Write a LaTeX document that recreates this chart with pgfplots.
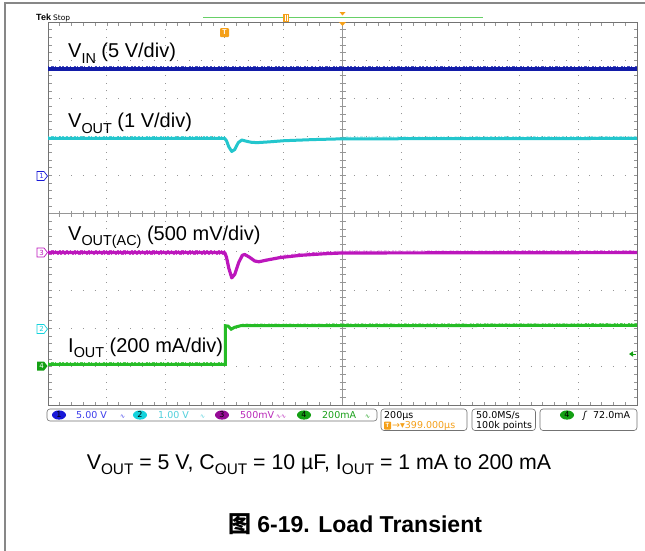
\documentclass[border=0pt]{standalone}
\usepackage{pgfplots}
\pgfplotsset{compat=1.18}
\usepackage{fontspec}
\setmainfont{Liberation Sans}
\newfontfamily\dejavu{DejaVu Sans}
\newfontfamily\cjk{Noto Sans CJK SC}
\definecolor{gridc}{RGB}{150,150,150}
\definecolor{bordc}{RGB}{115,115,115}
\definecolor{chA}{RGB}{18,28,168}
\definecolor{chB}{RGB}{35,198,205}
\definecolor{chC}{RGB}{188,22,188}
\definecolor{chD}{RGB}{38,188,38}
\definecolor{txA}{RGB}{60,60,235}
\definecolor{txB}{RGB}{80,208,220}
\definecolor{txC}{RGB}{185,40,185}
\definecolor{txD}{RGB}{25,160,25}
\definecolor{elA}{RGB}{25,25,215}
\definecolor{elB}{RGB}{20,210,220}
\definecolor{elC}{RGB}{150,10,150}
\definecolor{elD}{RGB}{20,160,20}
\definecolor{tekor}{RGB}{245,160,25}
\definecolor{framec}{RGB}{135,135,135}
\newcommand\sub[1]{\raisebox{-0.28em}{\scalebox{0.72}{#1}}}
\pgfplotsset{fuzz/.style={line width=0.7pt, opacity=0.75,
  dash pattern=on 1.2pt off 2.1pt on 2.6pt off 1.4pt on 0.8pt off 3.3pt on 1.9pt off 1.1pt}}
\begin{document}
\begin{tikzpicture}
\useasboundingbox (0,0) rectangle (645pt,-550pt);
\fill[white] (0,0) rectangle (645pt,-550pt);
\begin{scope}[x=1pt,y=-1pt]
% outer frame
\draw[framec, line width=1.3pt] (5,560) -- (5,3) -- (650,3);
% dotted grid
\foreach \i in {1,2,3,4,6,7,8,9} {
  \draw[gridc, line width=0.9pt, dash pattern=on 0.9pt off 6.76pt] (48+58.9*\i,405.45) -- (48+58.9*\i,22);
  \draw[gridc, line width=0.9pt, dash pattern=on 0.9pt off 10.88pt] (47.55,405-38.3*\i) -- (637,405-38.3*\i);
}
% centre crosshair
\draw[gridc, line width=0.6pt] (342.5,22) -- (342.5,405);
\draw[gridc, line width=0.6pt] (48,213.5) -- (637,213.5);
\foreach \k in {1,...,49} {
  \draw[gridc, line width=0.6pt] (48+11.78*\k,210.5) -- ++(0,6);
  \draw[gridc, line width=0.6pt] (48+11.78*\k,405) -- ++(0,-3.5);
  \draw[gridc, line width=0.6pt] (48+11.78*\k,22) -- ++(0,3.5);
  \draw[gridc, line width=0.6pt] (339.5,405-7.66*\k) -- ++(6,0);
  \draw[gridc, line width=0.6pt] (48,405-7.66*\k) -- ++(3.5,0);
  \draw[gridc, line width=0.6pt] (637,405-7.66*\k) -- ++(-3.5,0);
}
\end{scope}
\begin{axis}[at={(48pt,-405pt)}, anchor=south west, scale only axis,
  width=589pt, height=383pt, xmin=0, xmax=10, ymin=0, ymax=10,
  axis line style={bordc, line width=0.9pt}, xtick=\empty, ytick=\empty, clip=true]
% V_IN
\addplot[chA, line width=3.6pt] coordinates {(0,8.78) (10,8.78)};
\addplot[chA, fuzz, yshift=2pt] coordinates {(0,8.78) (10,8.78)};
\addplot[chA, fuzz, yshift=-2pt, dash phase=3pt] coordinates {(0,8.78) (10,8.78)};
% V_OUT
\addplot[chB, line width=3.0pt, line join=round] coordinates {
 (0,6.96) (3.0,6.96) (3.03,6.90) (3.07,6.74) (3.12,6.62) (3.17,6.67) (3.23,6.85)
 (3.29,6.92) (3.36,6.89) (3.45,6.86) (3.55,6.85) (3.75,6.87) (4.0,6.90) (4.5,6.93)
 (5.0,6.95) (10,6.96)};
\addplot[chB, fuzz, yshift=1.8pt] coordinates {(0,6.96) (3.0,6.96)};
\addplot[chB, fuzz, yshift=1.8pt] coordinates {(5.0,6.95) (10,6.96)};
% V_OUT(AC)
\addplot[chC, line width=3.2pt, line join=round] coordinates {
 (0,3.98) (3.0,3.98) (3.03,3.86) (3.07,3.57) (3.12,3.32) (3.17,3.41) (3.24,3.73)
 (3.30,3.91) (3.34,3.93) (3.42,3.86) (3.51,3.76) (3.58,3.74) (3.7,3.78) (3.94,3.85)
 (4.3,3.91) (4.7,3.95) (5.0,3.97) (10,3.98)};
\addplot[chC, fuzz, yshift=1.9pt] coordinates {(0,3.98) (3.0,3.98)};
\addplot[chC, fuzz, yshift=1.9pt] coordinates {(3.94,3.85) (4.3,3.91) (4.7,3.95) (5.0,3.97) (10,3.98)};
\addplot[chC, fuzz, yshift=-1.9pt, dash phase=2pt] coordinates {(0,3.98) (3.0,3.98)};
% I_OUT
\addplot[chD, line width=3.0pt] coordinates {
 (0,1.06) (3.01,1.06) (3.01,2.07) (3.06,2.06) (3.11,1.98) (3.17,2.03) (3.27,2.07) (10,2.08)};
\addplot[chD, fuzz, yshift=1.8pt] coordinates {(0,1.06) (3.0,1.06)};
\addplot[chD, fuzz, yshift=1.8pt] coordinates {(3.3,2.07) (10,2.08)};
\end{axis}
\begin{scope}[x=1pt,y=-1pt]
% trace labels
\node[anchor=base west, inner sep=0] at (68,57.5) {\fontsize{20}{24}\selectfont V\sub{IN} (5 V/div)};
\node[anchor=base west, inner sep=0] at (68,127.7) {\fontsize{20}{24}\selectfont V\sub{OUT} (1 V/div)};
\node[anchor=base west, inner sep=0] at (68,240) {\fontsize{20}{24}\selectfont V\sub{OUT(AC)} (500 mV/div)};
\node[anchor=base west, inner sep=0] at (68,352) {\fontsize{20}{24}\selectfont I\sub{OUT} (200 mA/div)};
% channel markers left
\draw[elA, line width=0.7pt] (37,171.5) -- (44,171.5) -- (47.5,176) -- (44,180.5) -- (37,180.5) -- cycle;
\node[txA, inner sep=0, font=\dejavu\fontsize{7}{7}\selectfont] at (41.5,176) {1};
\draw[chC, line width=0.7pt] (37,248) -- (44,248) -- (47.5,252.5) -- (44,257) -- (37,257) -- cycle;
\node[chC, inner sep=0, font=\dejavu\fontsize{7}{7}\selectfont] at (41.5,252.5) {3};
\draw[elB, line width=0.7pt] (37,324.5) -- (44,324.5) -- (47.5,329) -- (44,333.5) -- (37,333.5) -- cycle;
\node[elB, inner sep=0, font=\dejavu\fontsize{7}{7}\selectfont] at (41.5,329) {2};
\fill[elD] (37,361.5) -- (44,361.5) -- (47.5,366) -- (44,370.5) -- (37,370.5) -- cycle;
\node[white, inner sep=0, font=\dejavu\fontsize{7}{7}\selectfont] at (41.5,366) {4};
% trigger level arrow right
\fill[elD] (629,354) -- (633,351.3) -- (633,356.7) -- cycle;
\draw[elD, line width=0.8pt] (632,354) -- (636,354);
% top bar
\node[anchor=base west, inner sep=0, font=\bfseries\fontsize{9}{9}\selectfont] at (36,20.5) {Tek};
\node[anchor=base west, inner sep=0, font=\dejavu\fontsize{7.5}{8}\selectfont] at (53,20.5) {Stop};
\draw[chD!70, line width=0.8pt] (203,17.5) -- (483,17.5);
\fill[tekor] (283,13.5) rectangle (289,21.5);
\draw[white, line width=0.6pt] (285,14.5) -- (285,20.5) (287,14.5) -- (287,20.5);
\fill[tekor] (339.5,12) -- (345.5,12) -- (342.5,15.5) -- cycle;
\fill[tekor] (339,22) -- (346,22) -- (342.5,26) -- cycle;
\fill[tekor, rounded corners=1pt] (220,28) rectangle (229,37);
\node[white, inner sep=0, font=\bfseries\fontsize{7}{7}\selectfont] at (224.5,32.5) {T};
% status bar
\draw[bordc, line width=0.6pt, rounded corners=3pt] (47,409) rectangle (377,421);
\draw[bordc, line width=0.6pt, rounded corners=3pt] (381,409) rectangle (467,430.5);
\draw[bordc, line width=0.6pt, rounded corners=3pt] (472,409) rectangle (535.5,430.5);
\draw[bordc, line width=0.6pt, rounded corners=3pt] (540,409) rectangle (637,430.5);
\begin{scope}[every node/.style={inner sep=0, font=\dejavu\fontsize{9.5}{10}\selectfont}]
\fill[elA] (59,415) ellipse (7pt and 4.6pt); \node at (59,415) {\fontsize{8}{8}\selectfont 1};
\node[txA, anchor=base west] at (76,418.5) {5.00 V};
\node[txA, anchor=base west] at (120,418) {\fontsize{6}{6}\selectfont ∿};
\fill[elB] (140,415) ellipse (7pt and 4.6pt); \node at (140,415) {\fontsize{8}{8}\selectfont 2};
\node[txB, anchor=base west] at (158,418.5) {1.00 V};
\node[txB, anchor=base west] at (200,418) {\fontsize{6}{6}\selectfont ∿};
\fill[elC] (222,415) ellipse (7pt and 4.6pt); \node at (222,415) {\fontsize{8}{8}\selectfont 3};
\node[txC, anchor=base west] at (240,418.5) {500mV};
\node[txC, anchor=base west] at (276,418) {\fontsize{6}{6}\selectfont ∿∿};
\fill[elD] (304,415) ellipse (7pt and 4.6pt); \node at (304,415) {\fontsize{8}{8}\selectfont 4};
\node[txD, anchor=base west] at (322,418.5) {200mA};
\node[txD, anchor=base west] at (365,418) {\fontsize{6}{6}\selectfont ∿};
\node[anchor=base west] at (384,418.5) {200µs};
\fill[tekor, rounded corners=0.8pt] (384,421.5) rectangle (391,429.5);
\node[white, font=\bfseries\fontsize{6}{6}\selectfont] at (387.5,425.5) {T};
\node[tekor, anchor=base west] at (392,428.5) {→▾399.000µs};
\node[anchor=base west] at (476,418.5) {50.0MS/s};
\node[anchor=base west] at (476,428.5) {100k points};
\fill[elD] (567,415) ellipse (7pt and 4.6pt); \node at (567,415) {\fontsize{8}{8}\selectfont 4};
\node[anchor=base west] at (583,418.5) {\itshape ʃ};
\node[anchor=base west] at (593,418.5) {72.0mA};
\end{scope}
% caption and title
\node[anchor=base, inner sep=0] at (319,469) {\fontsize{21.3}{25}\selectfont V\sub{OUT} = 5 V, C\sub{OUT} = 10 µF, I\sub{OUT} = 1 mA to 200 mA};
\node[anchor=base, inner sep=0] at (355,532) {\fontsize{23}{27}\selectfont\bfseries {\cjk 图} 6-19. Load Transient};
\end{scope}
\end{tikzpicture}
\end{document}
